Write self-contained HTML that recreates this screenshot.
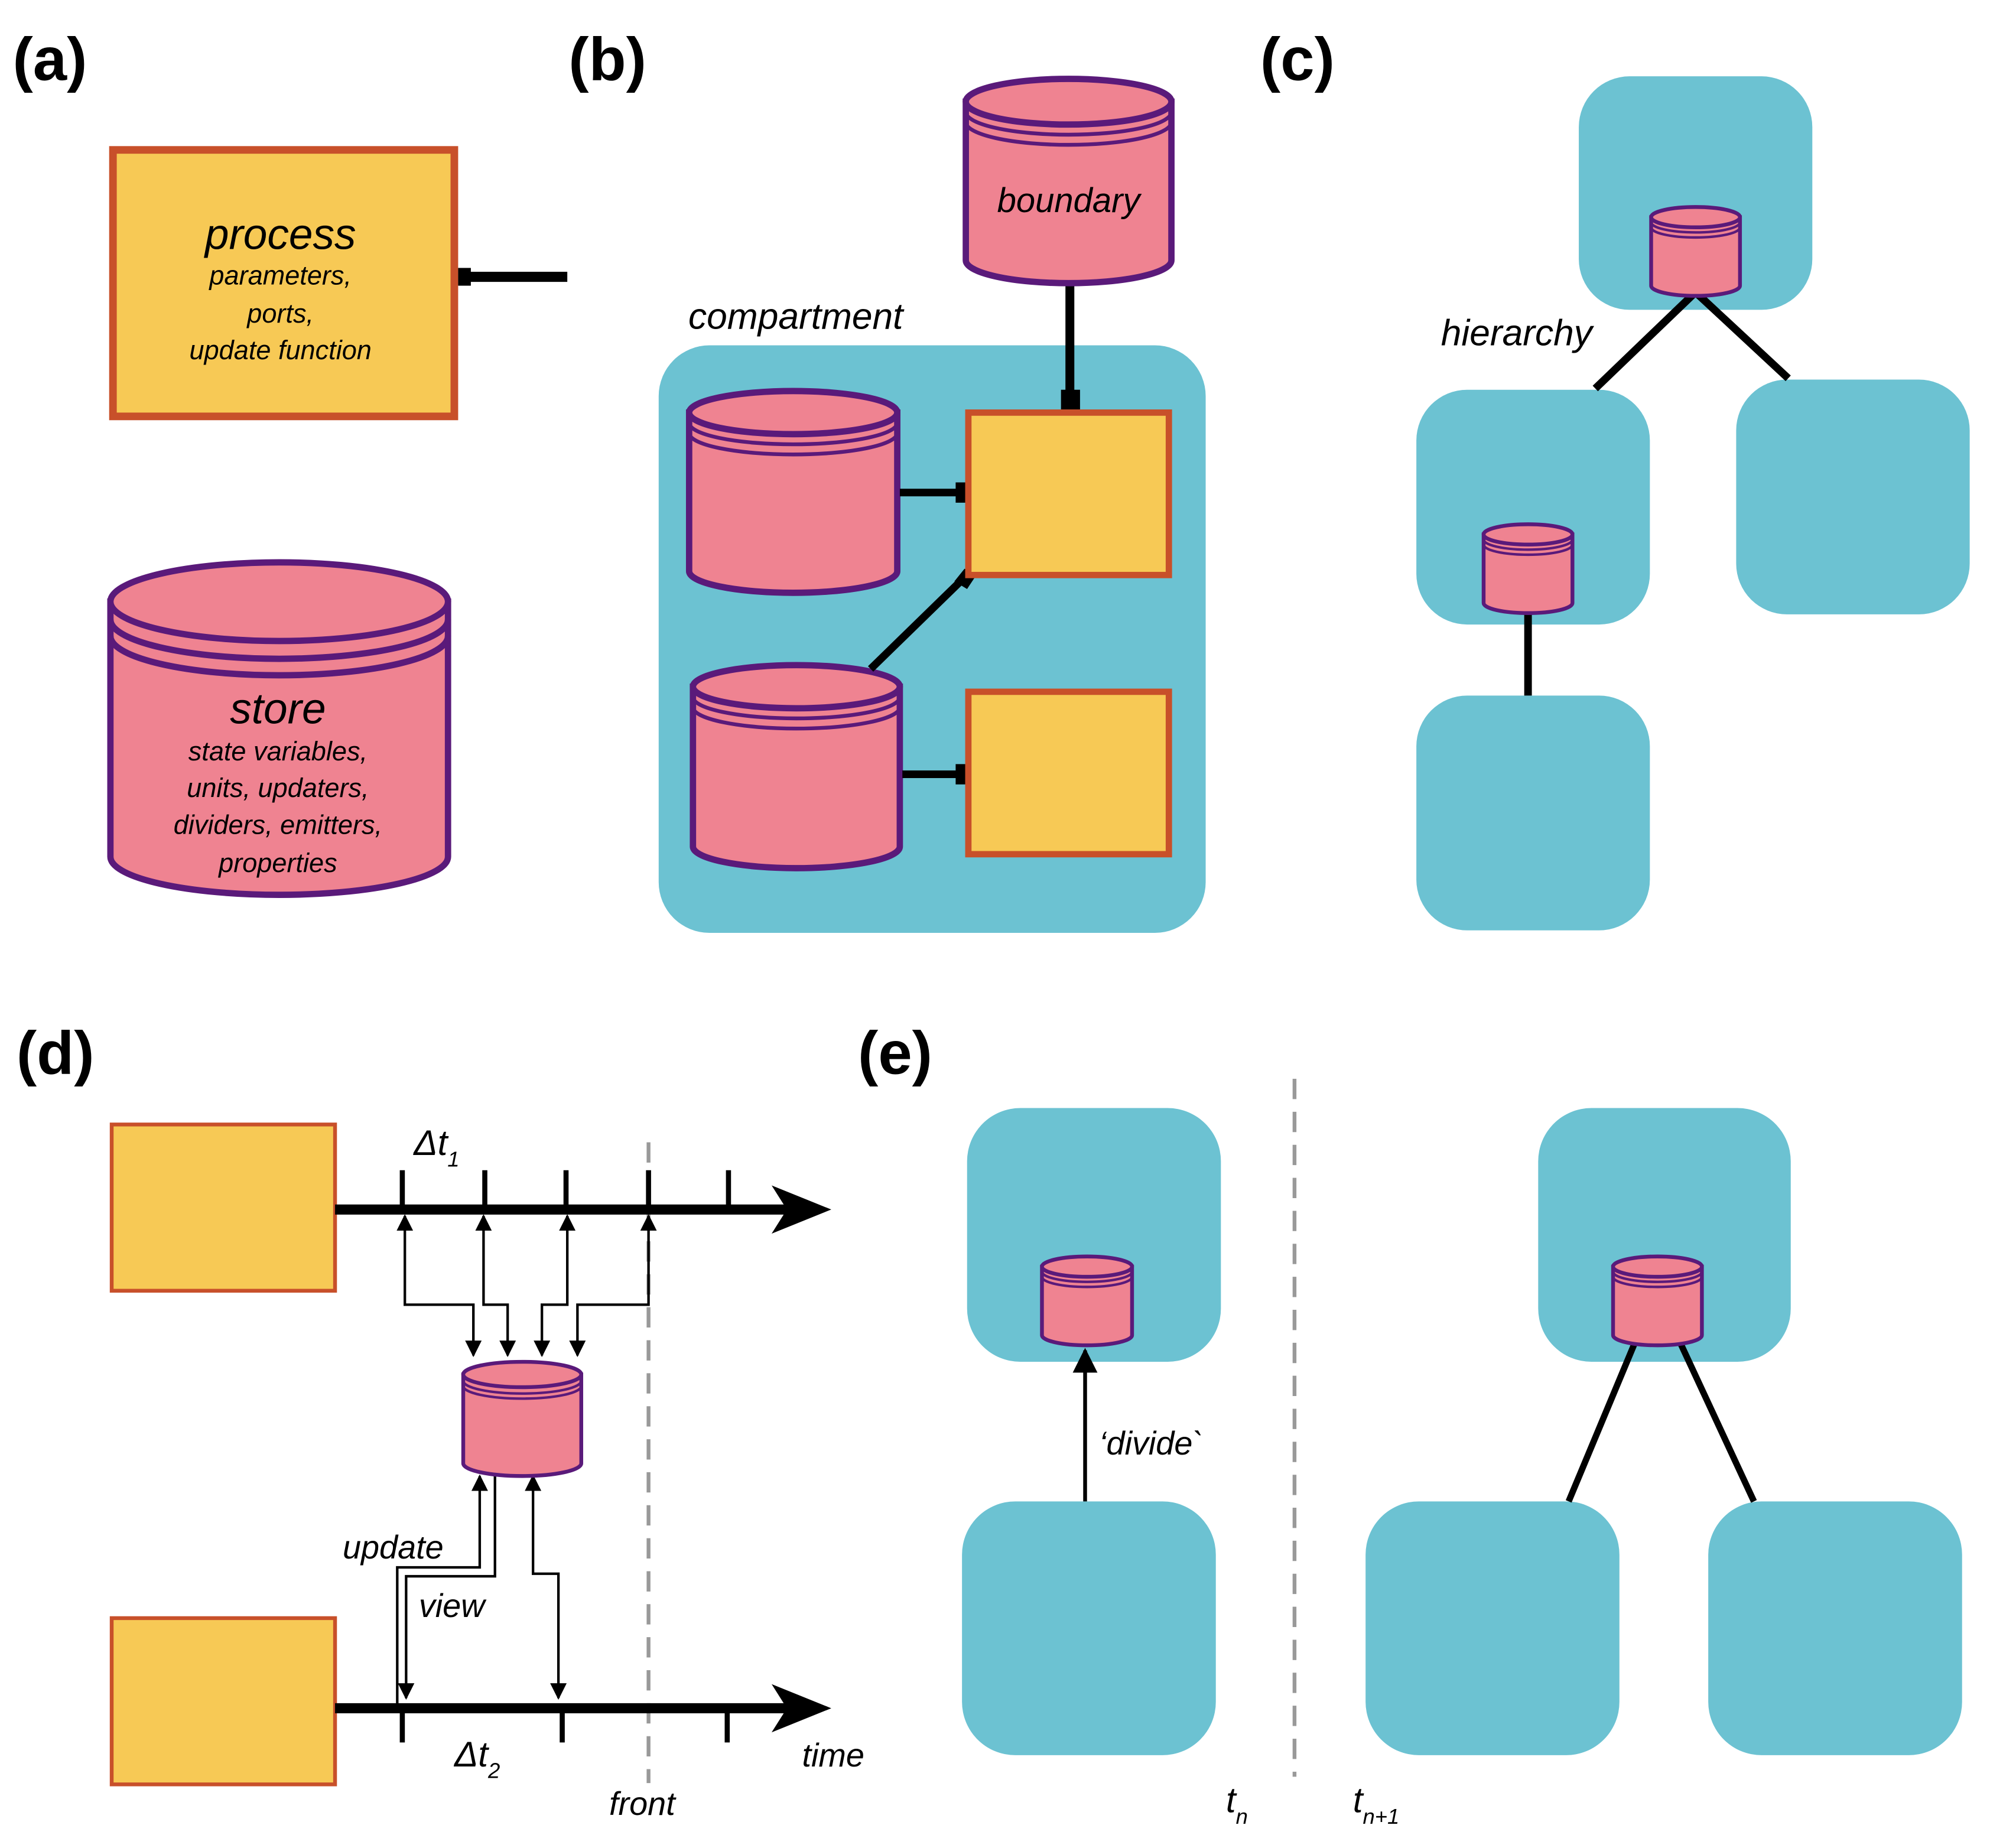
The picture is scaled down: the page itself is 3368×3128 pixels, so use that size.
<!DOCTYPE html>
<html><head><meta charset="utf-8"><style>
html,body{margin:0;padding:0;background:#fff}
svg{display:block}
text{font-family:"Liberation Sans",sans-serif;fill:#000}
.it{font-style:italic}
.lb{font-weight:bold;font-size:48px}
</style></head><body>
<svg width="3368" height="3128" viewBox="0 0 1568 1456" xmlns="http://www.w3.org/2000/svg">
<defs>
<marker id="ah" viewBox="0 0 10 10" refX="9" refY="5" markerWidth="6.5" markerHeight="6.5" orient="auto-start-reverse"><path d="M0,0 L10,5 L0,10 Z" fill="#000"/></marker>
</defs>
<text x="10" y="63" class="lb">(a)</text>
<text x="448" y="63" class="lb">(b)</text>
<text x="993" y="63" class="lb">(c)</text>
<text x="13" y="846" class="lb">(d)</text>
<text x="676" y="846" class="lb">(e)</text>

<rect x="89" y="118" width="269" height="210" fill="#f7c955" stroke="#c8502a" stroke-width="6"/>
<line x1="362" y1="218" x2="447" y2="218" stroke="#000" stroke-width="8"/>
<rect x="361" y="211" width="10" height="14" fill="#000"/>
<text x="221" y="196" text-anchor="middle" class="it" font-size="34">process</text>
<text x="221" y="224" text-anchor="middle" class="it" font-size="21">parameters,</text>
<text x="221" y="254" text-anchor="middle" class="it" font-size="21">ports,</text>
<text x="221" y="283" text-anchor="middle" class="it" font-size="21">update function</text>

<g fill="#ef8391" stroke="#5a1a7a" stroke-width="5">
<path d="M87 474 L87 675 A133 30 0 0 0 353 675 L353 474 Z"/>
<ellipse cx="220" cy="474" rx="133" ry="31"/>
<path d="M87 488 A133 31 0 0 0 353 488" fill="none"/>
<path d="M87 501 A133 31 0 0 0 353 501" fill="none"/>
</g>
<text x="219" y="570" text-anchor="middle" class="it" font-size="34">store</text>
<text x="219" y="599" text-anchor="middle" class="it" font-size="21">state variables,</text>
<text x="219" y="628" text-anchor="middle" class="it" font-size="21">units, updaters,</text>
<text x="219" y="657" text-anchor="middle" class="it" font-size="21">dividers, emitters,</text>
<text x="219" y="687" text-anchor="middle" class="it" font-size="21">properties</text>

<rect x="519" y="272" width="431" height="463" rx="40" fill="#6cc2d2"/>
<text x="627" y="259" text-anchor="middle" class="it" font-size="29">compartment</text>
<line x1="843" y1="222" x2="843" y2="322" stroke="#000" stroke-width="7"/>
<rect x="836" y="307" width="15" height="16" fill="#000"/>
<g fill="#ef8391" stroke="#5a1a7a" stroke-width="5">
<path d="M761 80 L761 205 A81 18 0 0 0 923 205 L923 80 Z"/>
<ellipse cx="842" cy="80" rx="81" ry="18"/>
<path d="M761 88 A81 18 0 0 0 923 88" fill="none" stroke-width="3"/>
<path d="M761 96 A81 18 0 0 0 923 96" fill="none" stroke-width="3"/>
<path d="M543 325 L543 450 A82 17 0 0 0 707 450 L707 325 Z"/>
<ellipse cx="625" cy="325" rx="82" ry="17"/>
<path d="M543 333 A82 17 0 0 0 707 333" fill="none" stroke-width="3"/>
<path d="M543 341 A82 17 0 0 0 707 341" fill="none" stroke-width="3"/>
<path d="M546 541 L546 667 A81.5 17 0 0 0 709 667 L709 541 Z"/>
<ellipse cx="627.5" cy="541" rx="81.5" ry="17"/>
<path d="M546 549 A81.5 17 0 0 0 709 549" fill="none" stroke-width="3"/>
<path d="M546 557 A81.5 17 0 0 0 709 557" fill="none" stroke-width="3"/>
</g>
<text x="842" y="167" text-anchor="middle" class="it" font-size="27">boundary</text>
<g stroke="#000" stroke-width="6">
<line x1="709" y1="388" x2="763" y2="388"/>
<line x1="711" y1="610" x2="763" y2="610"/>
<line x1="686" y1="527" x2="766" y2="449"/>
</g>
<rect x="753" y="380" width="10" height="16" fill="#000"/>
<rect x="753" y="602" width="10" height="16" fill="#000"/>
<path d="M752 458 L760 448 L770 452 L762 464 Z" fill="#000"/>
<rect x="763" y="325" width="158" height="128" fill="#f7c955" stroke="#c8502a" stroke-width="5"/>
<rect x="763" y="545" width="158" height="128" fill="#f7c955" stroke="#c8502a" stroke-width="5"/>

<g fill="#6cc2d2">
<rect x="1244" y="60" width="184" height="184" rx="40"/>
<rect x="1116" y="307" width="184" height="185" rx="40"/>
<rect x="1368" y="299" width="184" height="185" rx="40"/>
<rect x="1116" y="548" width="184" height="185" rx="40"/>
</g>
<g stroke="#000" stroke-width="6">
<line x1="1334" y1="232" x2="1257" y2="306"/>
<line x1="1338" y1="232" x2="1409" y2="298"/>
<line x1="1204" y1="478" x2="1204" y2="548"/>
</g>
<text x="1195" y="272" text-anchor="middle" class="it" font-size="29">hierarchy</text>
<g fill="#ef8391" stroke="#5a1a7a" stroke-width="3">
<path d="M1301 171 L1301 225 A35 8 0 0 0 1371 225 L1371 171 Z"/>
<ellipse cx="1336" cy="171" rx="35" ry="8"/>
<path d="M1301 175 A35 8 0 0 0 1371 175" fill="none" stroke-width="2"/>
<path d="M1301 179 A35 8 0 0 0 1371 179" fill="none" stroke-width="2"/>
<path d="M1169 421 L1169 475 A35 8 0 0 0 1239 475 L1239 421 Z"/>
<ellipse cx="1204" cy="421" rx="35" ry="8"/>
<path d="M1169 425 A35 8 0 0 0 1239 425" fill="none" stroke-width="2"/>
<path d="M1169 429 A35 8 0 0 0 1239 429" fill="none" stroke-width="2"/>
</g>

<rect x="88" y="886" width="176" height="131" fill="#f7c955" stroke="#c8502a" stroke-width="3"/>
<rect x="88" y="1275" width="176" height="131" fill="#f7c955" stroke="#c8502a" stroke-width="3"/>
<line x1="511" y1="900" x2="511" y2="1405" stroke="#999" stroke-width="3" stroke-dasharray="16,10"/>
<g stroke="#000">
<line x1="264" y1="953" x2="625" y2="953" stroke-width="8"/>
<line x1="264" y1="1346" x2="625" y2="1346" stroke-width="8"/>
<g stroke-width="4">
<line x1="317" y1="922" x2="317" y2="953"/><line x1="382" y1="922" x2="382" y2="953"/>
<line x1="446" y1="922" x2="446" y2="953"/><line x1="511" y1="922" x2="511" y2="953"/>
<line x1="574" y1="922" x2="574" y2="953"/>
<line x1="317" y1="1346" x2="317" y2="1373"/><line x1="443" y1="1346" x2="443" y2="1373"/>
<line x1="573" y1="1346" x2="573" y2="1373"/>
</g>
</g>
<path d="M655 953 L608 934 L620 953 L608 972 Z" fill="#000"/>
<path d="M655 1346 L608 1327 L620 1346 L608 1365 Z" fill="#000"/>
<g fill="none" stroke="#000" stroke-width="2">
<path d="M319 958 V1028 H373 V1068" marker-start="url(#ah)" marker-end="url(#ah)"/>
<path d="M381 958 V1028 H400 V1068" marker-start="url(#ah)" marker-end="url(#ah)"/>
<path d="M447 958 V1028 H427 V1068" marker-start="url(#ah)" marker-end="url(#ah)"/>
<path d="M511 958 V1028 H455 V1068" marker-start="url(#ah)" marker-end="url(#ah)"/>
<path d="M378 1163 V1235 H313 V1344" marker-start="url(#ah)"/>
<path d="M390 1160 V1242 H320 V1338" marker-end="url(#ah)"/>
<path d="M420 1163 V1240 H440 V1338" marker-start="url(#ah)" marker-end="url(#ah)"/>
</g>
<g fill="#ef8391" stroke="#5a1a7a" stroke-width="3">
<path d="M365 1083 L365 1153 A46.5 10 0 0 0 458 1153 L458 1083 Z"/>
<ellipse cx="411.5" cy="1083" rx="46.5" ry="10"/>
<path d="M365 1088 A46.5 10 0 0 0 458 1088" fill="none" stroke-width="2"/>
<path d="M365 1092 A46.5 10 0 0 0 458 1092" fill="none" stroke-width="2"/>
</g>
<text x="326" y="910" class="it" font-size="28">Δt<tspan font-size="17" dy="9">1</tspan></text>
<text x="358" y="1392" class="it" font-size="28">Δt<tspan font-size="17" dy="9">2</tspan></text>
<text x="270" y="1228" class="it" font-size="26">update</text>
<text x="330" y="1274" class="it" font-size="26">view</text>
<text x="632" y="1392" class="it" font-size="26">time</text>
<text x="480" y="1430" class="it" font-size="26">front</text>

<line x1="1020" y1="850" x2="1020" y2="1400" stroke="#999" stroke-width="3" stroke-dasharray="16,10"/>
<g fill="#6cc2d2">
<rect x="762" y="873" width="200" height="200" rx="42"/>
<rect x="758" y="1183" width="200" height="200" rx="42"/>
<rect x="1212" y="873" width="199" height="200" rx="42"/>
<rect x="1076" y="1183" width="200" height="200" rx="42"/>
<rect x="1346" y="1183" width="200" height="200" rx="42"/>
</g>
<line x1="855" y1="1183" x2="855" y2="1064" stroke="#000" stroke-width="3" marker-end="url(#ah)"/>
<g stroke="#000" stroke-width="5">
<line x1="1289" y1="1056" x2="1236" y2="1183"/>
<line x1="1323" y1="1056" x2="1382" y2="1183"/>
</g>
<g fill="#ef8391" stroke="#5a1a7a" stroke-width="3">
<path d="M821 998 L821 1052 A35.5 8 0 0 0 892 1052 L892 998 Z"/>
<ellipse cx="856.5" cy="998" rx="35.5" ry="8"/>
<path d="M821 1002 A35.5 8 0 0 0 892 1002" fill="none" stroke-width="2"/>
<path d="M821 1006 A35.5 8 0 0 0 892 1006" fill="none" stroke-width="2"/>
<path d="M1271 998 L1271 1052 A35 8 0 0 0 1341 1052 L1341 998 Z"/>
<ellipse cx="1306" cy="998" rx="35" ry="8"/>
<path d="M1271 1002 A35 8 0 0 0 1341 1002" fill="none" stroke-width="2"/>
<path d="M1271 1006 A35 8 0 0 0 1341 1006" fill="none" stroke-width="2"/>
</g>
<text x="866" y="1146" class="it" font-size="26">‘divide`</text>
<text x="966" y="1428" class="it" font-size="28">t<tspan font-size="17" dy="9">n</tspan></text>
<text x="1066" y="1428" class="it" font-size="28">t<tspan font-size="17" dy="9">n+1</tspan></text>
</svg>
</body></html>
